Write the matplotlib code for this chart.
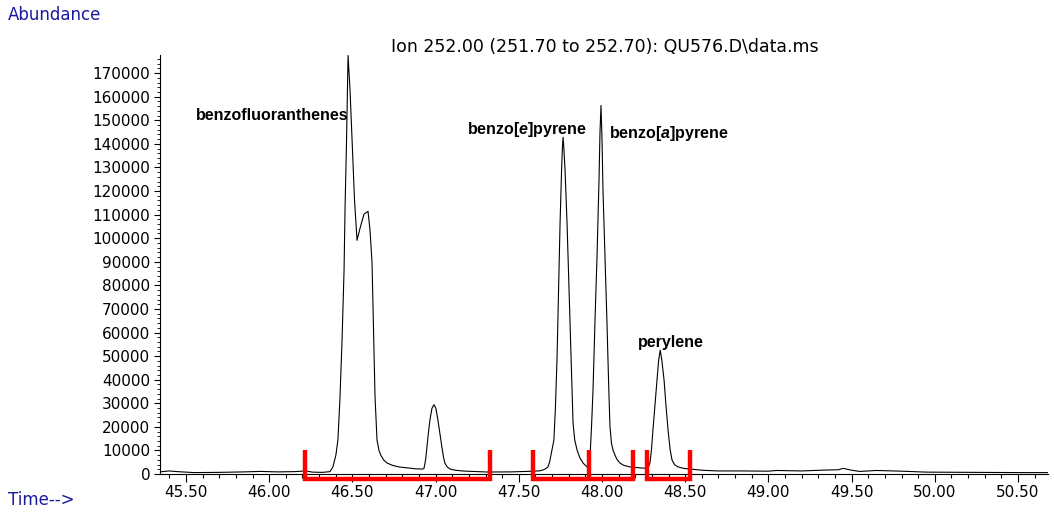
import matplotlib
matplotlib.use("Agg")
import matplotlib.pyplot as plt
from matplotlib.ticker import MultipleLocator, FormatStrFormatter
import numpy as np

# trace: retention time (min) and abundance
time = [45.34, 45.40, 45.45, 45.55, 45.70, 45.85, 45.95, 46.05, 46.15, 46.22, 46.26, 46.32,
        46.365, 46.383, 46.401, 46.413, 46.425, 46.438, 46.450, 46.456, 46.465, 46.474,
        46.486, 46.498, 46.513, 46.528, 46.546, 46.570, 46.594, 46.606, 46.618, 46.627,
        46.636, 46.648, 46.660, 46.672, 46.690, 46.710, 46.740, 46.780, 46.830, 46.880,
        46.920, 46.930, 46.940, 46.948, 46.957, 46.966, 46.978, 46.990, 47.002, 47.014,
        47.026, 47.038, 47.048, 47.056, 47.070, 47.087, 47.120, 47.165, 47.309, 47.45,
        47.55, 47.62, 47.645, 47.660, 47.675, 47.685, 47.693, 47.703, 47.711, 47.720,
        47.730, 47.740, 47.748, 47.757, 47.762, 47.766, 47.771, 47.778, 47.790, 47.802,
        47.814, 47.820, 47.826, 47.836, 47.850, 47.866, 47.886, 47.910, 47.922, 47.928,
        47.937, 47.946, 47.958, 47.970, 47.982, 47.988, 47.994, 48.000, 48.006, 48.018,
        48.030, 48.040, 48.048, 48.057, 48.066, 48.078, 48.090, 48.108, 48.130, 48.168,
        48.246, 48.276, 48.288, 48.297, 48.306, 48.318, 48.330, 48.340, 48.350, 48.360,
        48.373, 48.385, 48.397, 48.409, 48.421, 48.437, 48.457, 48.490, 48.529, 48.600,
        48.697, 48.85, 49.00, 49.05, 49.20, 49.35, 49.42, 49.45, 49.50, 49.55, 49.65,
        49.80, 49.95, 50.20, 50.50, 50.68]
abundance = [900, 1300, 1000, 600, 700, 900, 1100, 900, 1000, 1300, 800, 700,
             1000, 2970, 8050, 14400, 31400, 56800, 86400, 113000, 141500, 177500,
             162700, 141500, 116000, 99100, 104200, 110200, 111400, 103400, 89800, 61000,
             33000, 14400, 10000, 7800, 5800, 4600, 3700, 3000, 2600, 2200,
             2100, 2300, 6000, 11400, 17500, 22900, 27800, 29400, 27800, 22900,
             17000, 11400, 7000, 4660, 3000, 2100, 1600, 1270, 850, 900,
             1100, 1300, 1700, 2200, 3000, 5000, 8000, 11500, 14400, 28000,
             49600, 80000, 106300, 128800, 138000, 142800, 138000, 128800, 106300, 78000,
             49600, 34000, 21600, 14500, 10200, 7000, 4660, 3000, 3400, 7200,
             20000, 35600, 65200, 92000, 124600, 145000, 156300, 142000, 120300, 92000,
             64000, 38000, 20000, 13000, 10200, 8000, 6200, 4660, 3700, 3000,
             2500, 2500, 4660, 10000, 18600, 29000, 39800, 48000, 52500, 48000,
             39800, 28500, 18600, 10500, 5900, 3900, 3000, 2400, 2100, 1600,
             1300, 1300, 1200, 1500, 1300, 1700, 1800, 2400, 1600, 1100, 1500,
             1200, 800, 700, 600, 600]

# integration windows (red brackets)
bracket_starts = [46.215, 47.585, 48.27]
bracket_ends = [47.327, 48.186, 48.526]
bracket_splits = [None, 47.922, None]

labels = ["benzofluoranthenes", "benzo[$\\mathit{e}$]pyrene", "benzo[$\\mathit{a}$]pyrene", "perylene"]
label_pos = [(45.56, 152100), (47.189, 146200), (48.042, 144500), (48.216, 55900)]

plt.rcParams['font.family'] = ['DejaVu Sans']
plt.rcParams['mathtext.fontset'] = 'custom'
plt.rcParams['mathtext.it'] = 'Liberation Sans:italic:bold'
plt.rcParams['mathtext.rm'] = 'Liberation Sans:bold'

fig = plt.figure(figsize=(10.54, 5.14), dpi=100)
ax = fig.add_axes([0.1518, 0.0778, 0.8425, 0.8152])

ax.plot(time, abundance, color='black', lw=0.8)

tick_y, bot_y = 10000, -2100
for s, e, m in zip(bracket_starts, bracket_ends, bracket_splits):
    ax.plot([s, s, e, e], [tick_y, bot_y, bot_y, tick_y], color='red', lw=3.2,
            solid_joinstyle='miter', solid_capstyle='butt', clip_on=False, zorder=3)
    if m is not None:
        ax.plot([m, m], [bot_y, tick_y], color='red', lw=3.2,
                solid_capstyle='butt', clip_on=False, zorder=3)

for txt, (x, y) in zip(labels, label_pos):
    ax.text(x, y, txt, fontsize=11.5, fontweight='bold', family='Liberation Sans',
            ha='left', va='center')

ax.set_xlim(45.344, 50.68)
ax.set_ylim(0, 177700)
ax.xaxis.set_major_locator(MultipleLocator(0.5))
ax.xaxis.set_minor_locator(MultipleLocator(0.1))
ax.xaxis.set_major_formatter(FormatStrFormatter('%.2f'))
ax.yaxis.set_major_locator(MultipleLocator(10000))
ax.yaxis.set_minor_locator(MultipleLocator(2000))
ax.tick_params(axis='x', which='major', length=6, width=0.8, labelsize=11, pad=2)
ax.tick_params(axis='x', which='minor', length=3, width=0.8)
ax.tick_params(axis='y', which='major', length=4, width=0.8, labelsize=11, pad=3)
ax.tick_params(axis='y', which='minor', length=2, width=0.6)
for sp in ['top', 'right']:
    ax.spines[sp].set_visible(False)
ax.spines['left'].set_linewidth(0.8)
ax.spines['bottom'].set_linewidth(0.8)

fig.text(605 / 1054, 1 - 47 / 514, "Ion 252.00 (251.70 to 252.70): QU576.D\\data.ms",
         fontsize=12.5, ha='center', va='center')
fig.text(8 / 1054, 1 - 15 / 514, "Abundance", fontsize=12, color='#1a1a9a',
         ha='left', va='center')
fig.text(8 / 1054, 1 - 500 / 514, "Time-->", fontsize=12, color='#1a1a9a',
         ha='left', va='center')

fig.savefig("out.png", dpi=100)
